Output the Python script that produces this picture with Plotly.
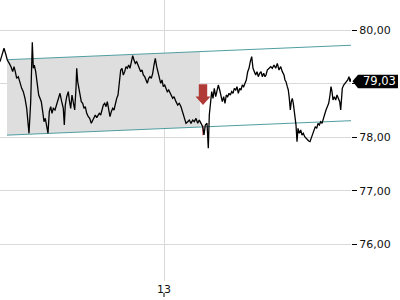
import plotly.graph_objects as go

# ---- data ----
t = [0, 1.7, 4.0, 6.0, 7.3, 9.3, 11.0, 12.7, 14.0, 15.3, 16.7, 18.3, 20.0, 21.7, 23.3, 25.0, 26.7, 28.0, 29.0, 30.7,
     31.7, 32.3, 33.3, 34.3, 35.7, 37.3, 38.7, 40.0, 41.3, 42.7, 44.0, 45.3, 46.7, 48.0, 49.3, 50.7, 52.0, 53.3, 55.0, 56.7,
     58.3, 60.0, 61.7, 63.3, 64.3, 65.3, 66.7, 68.3, 69.3, 70.7, 72.0, 73.3, 74.7, 76.0, 76.7, 77.7, 79.0, 80.0, 81.3, 82.7,
     84.0, 85.3, 86.7, 88.3, 89.7, 91.3, 92.7, 94.0, 95.3, 96.7, 98.0, 99.3, 100.7, 102.0, 103.3, 104.7, 106.0, 107.3, 108.7, 110.0,
     111.3, 112.7, 114.0, 115.3, 116.7, 118.0, 118.7, 119.7, 120.7, 122.0, 123.3, 124.7, 126.0, 127.3, 128.7, 130.0, 131.3, 132.7, 134.0, 135.3,
     136.7, 138.0, 139.3, 140.7, 142.0, 143.3, 144.7, 146.0, 147.3, 148.7, 150.0, 151.3, 152.7, 154.0, 155.3, 156.7, 158.0, 159.3, 160.7, 162.0,
     163.3, 164.7, 166.0, 167.3, 168.7, 170.0, 171.3, 172.7, 174.0, 175.3, 176.0, 177.7, 179.3, 181.0, 182.7, 184.3, 186.0, 187.7, 189.3, 191.0,
     192.7, 194.3, 196.0, 197.7, 199.3, 201.0, 202.7, 204.0, 205.3, 207.0, 208.3, 209.3, 210.7, 211.7, 213.0, 214.3, 215.7, 217.0, 218.3, 219.7,
     221.0, 222.3, 223.7, 225.0, 226.3, 227.7, 229.0, 230.3, 231.7, 233.0, 234.3, 235.7, 237.0, 238.3, 239.7, 241.0, 242.3, 243.7, 245.0, 246.3,
     247.7, 249.0, 250.3, 251.7, 253.0, 254.3, 255.7, 257.0, 258.3, 259.7, 261.0, 262.3, 263.7, 265.0, 266.0, 267.3, 269.0, 270.7, 272.3, 274.0,
     275.7, 277.3, 279.0, 280.7, 282.3, 284.0, 285.0, 286.0, 287.3, 288.3, 289.3, 290.3, 291.3, 292.3, 293.3, 294.7, 296.0, 297.0, 298.0, 299.3,
     300.7, 302.0, 303.3, 304.7, 306.0, 307.3, 308.7, 310.0, 311.3, 312.7, 314.0, 315.3, 316.7, 318.0, 319.3, 320.7, 322.0, 323.3, 324.7, 326.0,
     327.3, 328.7, 330.0, 331.0, 332.0, 333.0, 334.3, 335.7, 337.0, 338.3, 339.7, 340.7, 341.3, 342.3, 343.7, 345.0, 346.3, 347.7, 349.0, 350.0,
     351.3, 352.0]
price = [79.414, 79.538, 79.663, 79.538, 79.445, 79.382, 79.320, 79.227, 79.320, 79.227, 79.102, 79.133, 79.009, 78.915, 78.853, 78.728, 78.541, 78.292, 78.074, 78.666,
         79.289, 79.775, 79.289, 79.351, 79.227, 78.977, 78.790, 78.728, 78.666, 78.479, 78.292, 78.354, 78.167, 78.074, 78.479, 78.572, 78.448, 78.541, 78.510, 78.635,
         78.728, 78.822, 78.666, 78.541, 78.230, 78.603, 78.759, 78.853, 78.697, 78.541, 78.790, 78.666, 78.510, 78.915, 79.289, 79.040, 78.884, 78.759, 78.666, 78.635,
         78.541, 78.572, 78.448, 78.385, 78.354, 78.261, 78.323, 78.385, 78.417, 78.367, 78.417, 78.448, 78.417, 78.510, 78.603, 78.635, 78.572, 78.666, 78.510, 78.385,
         78.479, 78.541, 78.510, 78.635, 78.728, 78.790, 78.915, 79.102, 79.258, 79.289, 79.164, 79.227, 79.320, 79.289, 79.351, 79.289, 79.414, 79.526, 79.445, 79.382,
         79.414, 79.351, 79.289, 79.227, 79.258, 79.164, 79.133, 79.071, 79.009, 79.102, 79.133, 79.102, 79.195, 79.351, 79.476, 79.320, 79.227, 79.102, 79.009, 79.071,
         78.946, 78.977, 78.915, 78.853, 78.884, 78.822, 78.790, 78.728, 78.759, 78.666, 78.666, 78.603, 78.635, 78.572, 78.448, 78.354, 78.261, 78.292, 78.323, 78.261,
         78.323, 78.292, 78.354, 78.261, 78.323, 78.261, 78.199, 78.043, 78.230, 78.261, 77.794, 78.417, 78.666, 78.853, 78.728, 78.915, 78.759, 78.853, 78.977, 78.884,
         78.790, 78.666, 78.759, 78.635, 78.790, 78.759, 78.822, 78.790, 78.853, 78.822, 78.915, 78.884, 78.946, 78.822, 78.915, 78.884, 78.977, 78.946, 79.009, 79.071,
         79.227, 79.289, 79.414, 79.507, 79.289, 79.227, 79.164, 79.227, 79.133, 79.195, 79.227, 79.133, 79.195, 79.133, 79.164, 79.258, 79.289, 79.320, 79.289, 79.351,
         79.289, 79.382, 79.258, 79.320, 79.227, 79.164, 79.071, 79.040, 78.946, 78.884, 78.728, 78.510, 78.666, 78.728, 78.635, 78.448, 78.230, 77.918, 78.167, 78.074,
         78.136, 78.043, 78.074, 78.012, 77.980, 77.949, 77.931, 77.918, 77.980, 78.074, 78.136, 78.199, 78.167, 78.261, 78.230, 78.292, 78.261, 78.354, 78.417, 78.510,
         78.572, 78.635, 78.790, 78.946, 78.853, 78.697, 78.759, 78.697, 78.790, 78.728, 78.666, 78.510, 78.790, 78.915, 78.977, 79.009, 79.040, 79.071, 79.133, 79.040,
         79.102, 79.030]

channel_t = [7, 351]
channel_upper = [79.45, 79.72]
channel_lower = [78.04, 78.31]
zone_t = [7, 200]
zone_upper = [79.45, 79.601]
zone_lower = [78.04, 78.191]

signal_t = 203
signal_price = 78.605
signal_bar = [78.04, 78.22]

last_price = 79.03
last_label = "79,03"

# the 79,00 label is hidden behind the last-price box in the reference
y_ticks = [76, 77, 78, 79, 80]
y_ticktext = ["76,00", "77,00", "78,00", "", "80,00"]
x_ticks = [164]
x_ticktext = ["13"]

FONT = "DejaVu Sans"

fig = go.Figure()

# shaded zone between channel lines
fig.add_trace(go.Scatter(
    x=[zone_t[0], zone_t[1], zone_t[1], zone_t[0], zone_t[0]],
    y=[zone_lower[0], zone_lower[1], zone_upper[1], zone_upper[0], zone_lower[0]],
    fill="toself", fillcolor="#dedede", line=dict(width=0), mode="lines",
    hoverinfo="skip", showlegend=False))

# channel lines
for ys in (channel_upper, channel_lower):
    fig.add_trace(go.Scatter(x=channel_t, y=ys, mode="lines",
                             line=dict(color="#4f9ea0", width=1), showlegend=False))

# signal bar (pink)
fig.add_trace(go.Scatter(x=[signal_t, signal_t], y=signal_bar, mode="lines",
                         line=dict(color="#e09090", width=2), showlegend=False))

# price line
fig.add_trace(go.Scatter(x=t, y=price, mode="lines",
                         line=dict(color="#000000", width=1.3), showlegend=False))

shapes = []
# red down arrow (pixel sized, anchored at tip)
shapes.append(dict(
    type="path", xref="x", yref="y", xsizemode="pixel", ysizemode="pixel",
    xanchor=signal_t, yanchor=signal_price,
    path="M 0 0 L 7.5 8.3 L 4.2 8.3 L 4.2 20.7 L -4.2 20.7 L -4.2 8.3 L -7.5 8.3 Z",
    fillcolor="#b03a35", line=dict(width=0), layer="above"))
# last price label box with pointer
shapes.append(dict(
    type="path", xref="paper", yref="y", xsizemode="pixel", ysizemode="pixel",
    xanchor=1, yanchor=last_price,
    path="M 1.5 1 L 7 7.5 L 47 7.5 L 47 -6 L 7 -6 Z",
    fillcolor="#000000", line=dict(width=0), layer="above"))
# x tick mark below label
shapes.append(dict(
    type="line", xref="x", yref="paper", ysizemode="pixel", yanchor=0,
    x0=x_ticks[0], x1=x_ticks[0], y0=-12, y1=-16,
    line=dict(color="#000000", width=1)))
fig.update_layout(shapes=shapes)

fig.add_annotation(x=1, xref="paper", y=last_price, yref="y", xanchor="left", yanchor="middle",
                   xshift=10, yshift=1, text=last_label, showarrow=False,
                   font=dict(family=FONT, size=11.5, color="#ffffff"))

fig.update_layout(
    width=400, height=300,
    margin=dict(l=0, r=49, t=0, b=19),
    paper_bgcolor="#ffffff", plot_bgcolor="#ffffff",
    font=dict(family=FONT, size=11, color="#222222"),
    xaxis=dict(range=[0, 351], tickvals=x_ticks, ticktext=x_ticktext,
               showgrid=True, gridcolor="#d9d9d9", gridwidth=1,
               ticks="", zeroline=False, showline=False, fixedrange=True,
               tickfont=dict(family=FONT, size=11, color="#111111")),
    yaxis=dict(range=[75.314, 80.566], side="right", tickvals=y_ticks, ticktext=y_ticktext,
               showgrid=True, gridcolor="#d9d9d9", gridwidth=1,
               ticks="outside", ticklen=5, tickcolor="#000000", tickwidth=1,
               zeroline=False, showline=False,
               tickfont=dict(family=FONT, size=11, color="#111111")),
)

fig.write_html("out.html")
